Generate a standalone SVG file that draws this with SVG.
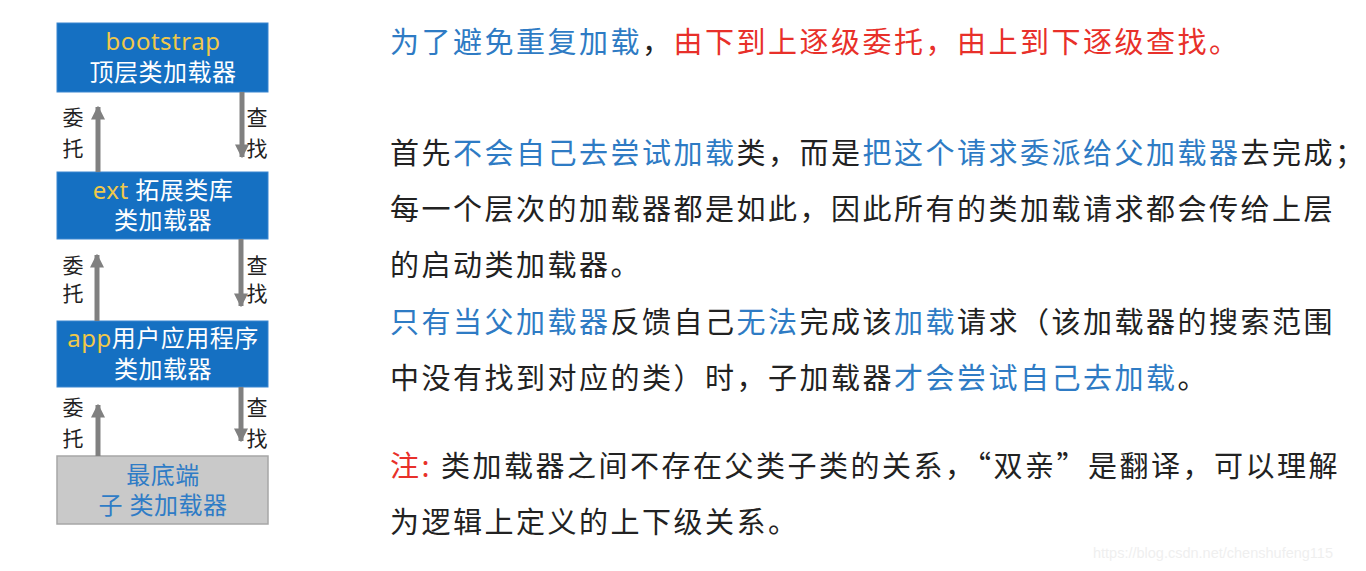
<svg xmlns="http://www.w3.org/2000/svg" width="1366" height="571" viewBox="0 0 1366 571">
<defs>
<style>
.box{fill:#1570c2;stroke:#3a86d0;stroke-width:1}
.gbox{fill:#c9c9c9;stroke:#a6a6a6;stroke-width:1.5}
.bt{font-family:"Noto Sans","Noto Sans CJK SC",sans-serif;font-size:24px;fill:#ffffff;text-anchor:middle;letter-spacing:0.5px}
.y{fill:#f0c84a}
.gb{fill:#2f7cc6}
.lbl{font-family:"Noto Sans CJK SC",sans-serif;font-size:21px;fill:#222;text-anchor:middle}
.ln{stroke:#808080;stroke-width:5;fill:none}
.txt{font-family:"Noto Sans CJK SC",sans-serif;font-size:29px;fill:#222;letter-spacing:2.5px}
.b{fill:#2e7bc4}
.r{fill:#e8302a}
.wm{font-family:"Liberation Sans",Arial,sans-serif;font-size:14.5px;fill:#efefef}
</style>
<marker id="ah" viewBox="0 0 10 10" refX="9" refY="5" markerWidth="2.8" markerHeight="2.8" orient="auto" markerUnits="strokeWidth">
<path d="M0,0 L10,5 L0,10 z" fill="#808080"/>
</marker>
</defs>
<rect width="1366" height="571" fill="#ffffff"/>

<g id="bootstrap">
<rect class="box" x="57" y="23" width="211" height="69"/>
<text class="bt" x="163" y="50"><tspan class="y">bootstrap</tspan></text>
<text class="bt" x="163" y="81">顶层类加载器</text>
</g>
<g id="ext">
<rect class="box" x="57" y="172" width="211" height="67"/>
<text class="bt" x="163" y="199"><tspan class="y">ext</tspan> 拓展类库</text>
<text class="bt" x="163" y="229">类加载器</text>
</g>
<g id="app">
<rect class="box" x="57" y="321" width="211" height="66"/>
<text class="bt" x="163" y="347"><tspan class="y">app</tspan>用户应用程序</text>
<text class="bt" x="163" y="378">类加载器</text>
</g>
<g id="child">
<rect class="gbox" x="57" y="456" width="211" height="68"/>
<text class="bt gb" x="163" y="484">最底端</text>
<text class="bt gb" x="163" y="514">子 类加载器</text>
</g>

<g id="connectors">
<line class="ln" x1="98" y1="172" x2="98" y2="107" marker-end="url(#ah)"/>
<line class="ln" x1="242" y1="92" x2="242" y2="157" marker-end="url(#ah)"/>
<line class="ln" x1="97" y1="321" x2="97" y2="255" marker-end="url(#ah)"/>
<line class="ln" x1="241" y1="239" x2="241" y2="306" marker-end="url(#ah)"/>
<line class="ln" x1="98" y1="456" x2="98" y2="405" marker-end="url(#ah)"/>
<line class="ln" x1="241" y1="387" x2="241" y2="441" marker-end="url(#ah)"/>
<text class="lbl" x="73" y="125">委</text>
<text class="lbl" x="73" y="156">托</text>
<text class="lbl" x="257" y="125">查</text>
<text class="lbl" x="257" y="156">找</text>
<text class="lbl" x="73" y="273">委</text>
<text class="lbl" x="73" y="301">托</text>
<text class="lbl" x="257" y="273">查</text>
<text class="lbl" x="257" y="301">找</text>
<text class="lbl" x="73" y="415">委</text>
<text class="lbl" x="73" y="446">托</text>
<text class="lbl" x="257" y="415">查</text>
<text class="lbl" x="257" y="446">找</text>
</g>

<g id="notes">
<text class="txt" x="390" y="53"><tspan class="b">为了避免重复加载</tspan>，<tspan class="r">由下到上逐级委托，由上到下逐级查找。</tspan></text>
<text class="txt" x="390" y="164">首先<tspan class="b">不会自己去尝试加载</tspan>类，而是<tspan class="b">把这个请求委派给父加载器</tspan>去完成；</text>
<text class="txt" x="390" y="220">每一个层次的加载器都是如此，因此所有的类加载请求都会传给上层</text>
<text class="txt" x="390" y="276">的启动类加载器。</text>
<text class="txt" x="390" y="333"><tspan class="b">只有当父加载器</tspan>反馈自己<tspan class="b">无法</tspan>完成该<tspan class="b">加载</tspan>请求（该加载器的搜索范围</text>
<text class="txt" x="390" y="389">中没有找到对应的类）时，子加载器<tspan class="b">才会尝试自己去加载</tspan>。</text>
<text class="txt" x="390" y="477"><tspan class="r">注:</tspan> 类加载器之间不存在父类子类的关系，“双亲”是翻译，可以理解</text>
<text class="txt" x="390" y="533">为逻辑上定义的上下级关系。</text>
</g>
<text class="wm" x="1093" y="558">https://blog.csdn.net/chenshufeng115</text>
</svg>
